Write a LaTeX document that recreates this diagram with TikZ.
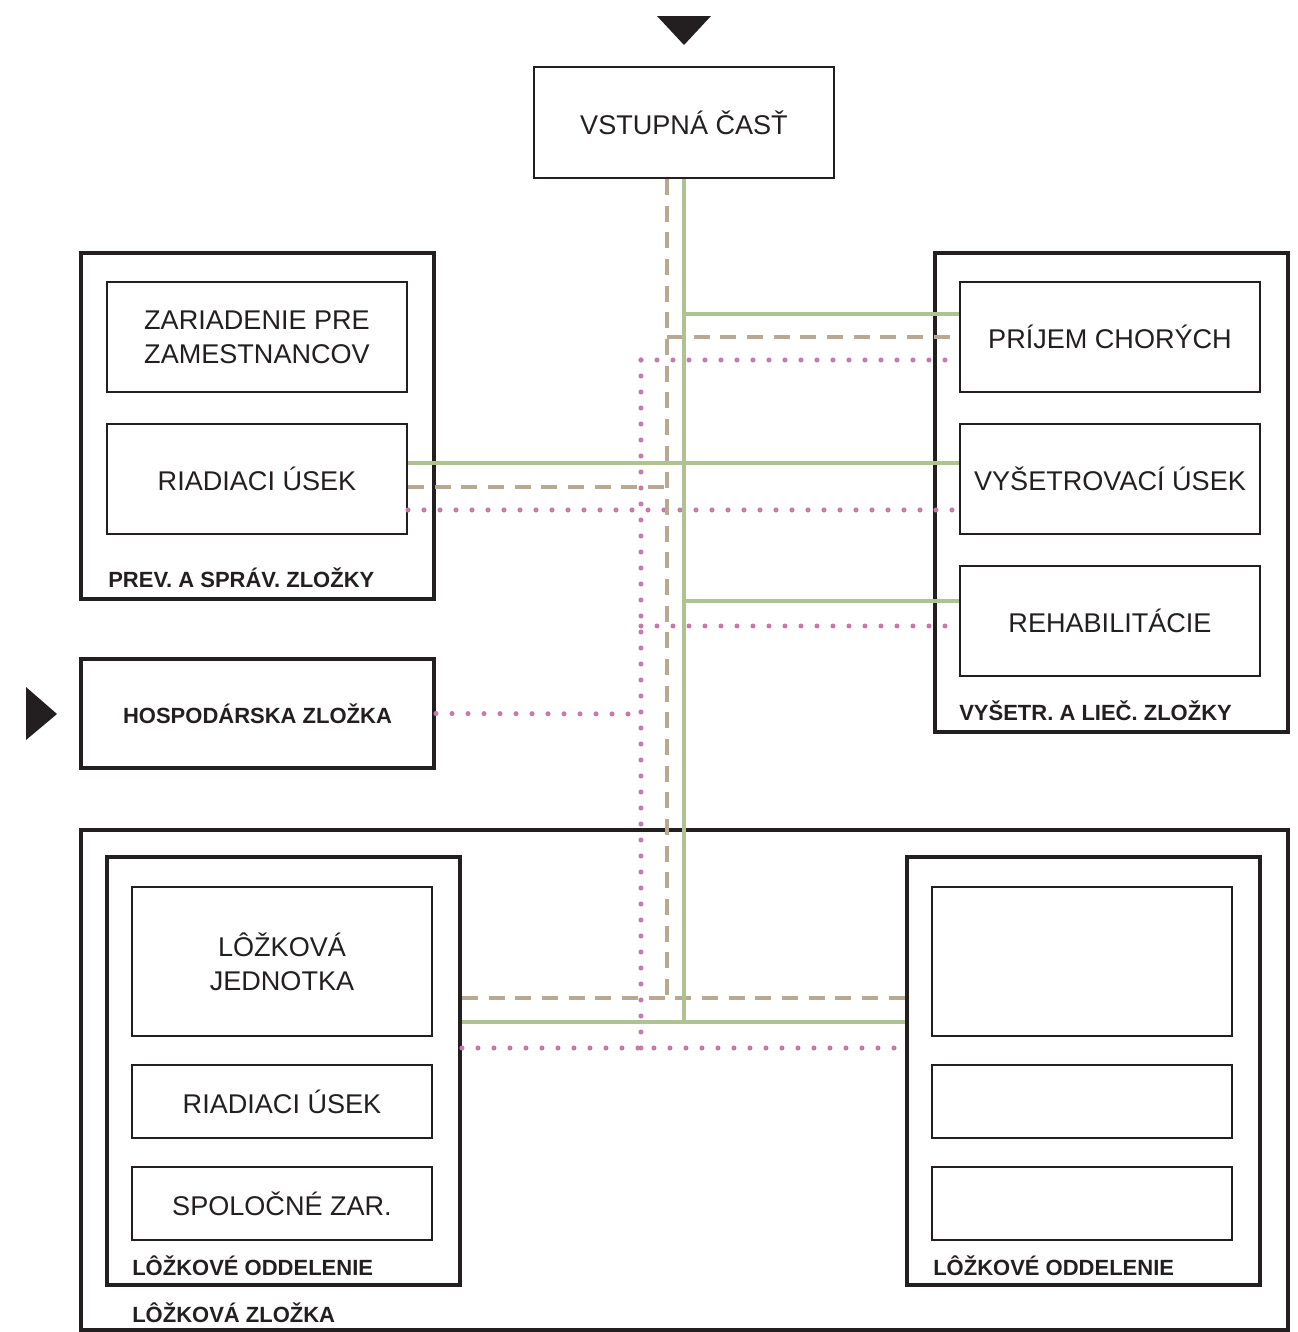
\documentclass[tikz,border=0pt]{standalone}
\usepackage{fontspec}
\setmainfont{Liberation Sans}
\definecolor{ink}{HTML}{231F20}
\definecolor{gln}{HTML}{AFC292}
\definecolor{tln}{HTML}{B9A993}
\definecolor{pln}{HTML}{C67AA6}
\begin{document}
\begin{tikzpicture}[x=0.75pt,y=-0.75pt,
  inbox/.style={draw=ink,line width=1.5pt,inner sep=0pt,minimum width=225pt,
    font=\fontsize{20.3}{25.5}\selectfont,text=ink,align=center},
  grpbox/.style={draw=ink,line width=3pt,inner sep=0pt},
  glabel/.style={anchor=base west,inner sep=0pt,text=ink,font=\fontsize{16.5}{19}\selectfont\bfseries},
  gline/.style={draw=gln,line width=3.2pt},
  tline/.style={draw=tln,line width=3.4pt,dash pattern=on 12pt off 8pt},
  pline/.style={draw=pln,line width=3.8pt,line cap=round,dash pattern=on 0pt off 12pt}]
\useasboundingbox (0,0) rectangle (1297,1332);
% triangles
\fill[ink] (657,16) -- (711,16) -- (684,45) -- cycle;
\fill[ink] (26,687) -- (57,714) -- (26,740) -- cycle;
% entry
\node[inbox,minimum height=83.25pt] (vst) at (684,122.5) {VSTUPNÁ ČASŤ};
% left group
\node[grpbox,minimum width=264.75pt,minimum height=259.5pt] (prev) at (257.5,426) {};
\node[inbox,minimum height=82.5pt] (zar) at (257,337) {ZARIADENIE PRE\\ZAMESTNANCOV};
\node[inbox,minimum height=82.5pt] (riad1) at (257,479) {RIADIACI ÚSEK};
\node[glabel] (prevl) at (108,587) {PREV. A SPRÁV. ZLOŽKY};
% right group
\node[grpbox,minimum width=264.75pt,minimum height=359.25pt] (vys) at (1111.5,492.5) {};
\node[inbox,minimum height=82.5pt] (prij) at (1110,337) {PRÍJEM CHORÝCH};
\node[inbox,minimum height=82.5pt] (vyset) at (1110,479) {VYŠETROVACÍ ÚSEK};
\node[inbox,minimum height=82.5pt] (rehab) at (1110,621) {REHABILITÁCIE};
\node[glabel] (vysl) at (959,720) {VYŠETR. A LIEČ. ZLOŽKY};
% hospodarska
\node[grpbox,minimum width=264.75pt,minimum height=81.75pt,text=ink,
  font=\fontsize{16.5}{19}\selectfont\bfseries] (hosp) at (257.5,713.5) {HOSPODÁRSKA ZLOŽKA};
% bottom
\node[grpbox,minimum width=905.25pt,minimum height=375pt] (lozz) at (684.5,1080) {};
\node[grpbox,minimum width=264.75pt,minimum height=321pt] (lodl) at (283.5,1071) {};
\node[grpbox,minimum width=264.75pt,minimum height=321pt] (lodr) at (1083.5,1071) {};
\node[inbox,minimum height=111.75pt] (loj) at (282,961.5) {LÔŽKOVÁ\\JEDNOTKA};
\node[inbox,minimum height=54.75pt] (riad2) at (282,1101.5) {RIADIACI ÚSEK};
\node[inbox,minimum height=54.75pt] (spol) at (282,1203.5) {SPOLOČNÉ ZAR.};
\node[inbox,minimum height=111.75pt] (r1) at (1082,961.5) {};
\node[inbox,minimum height=54.75pt] (r2) at (1082,1101.5) {};
\node[inbox,minimum height=54.75pt] (r3) at (1082,1203.5) {};
\node[glabel] (lodll) at (132,1275) {LÔŽKOVÉ ODDELENIE};
\node[glabel] (lodrl) at (933,1275) {LÔŽKOVÉ ODDELENIE};
\node[glabel] (lozzl) at (132,1322) {LÔŽKOVÁ ZLOŽKA};
% junction coordinates
\coordinate (g1) at (684,314);
\coordinate (g2) at (684,463);
\coordinate (g3) at (684,601);
\coordinate (g4) at (684,1022);
\coordinate (t1) at (667,337);
\coordinate (t2) at (667,487);
\coordinate (t3) at (667,998);
\coordinate (p1) at (641,360);
\coordinate (p2) at (641,510);
\coordinate (p3) at (641,626);
\coordinate (p4) at (641,714);
\coordinate (p5) at (641,1048);
% pink dotted
\draw[pline] (p1) -- (p5);
\draw[pline] (p1) -- (prij.west |- p1);
\draw[pline] (riad1.east |- p2) -- (vyset.west |- p2);
\draw[pline] (p3) -- (rehab.west |- p3);
\draw[pline] (hosp.east) -- (p4);
\draw[pline] (lodl.east |- p5) -- (lodr.west |- p5);
% tan dashed
\draw[tline] (vst.south -| t1) -- (t3);
\draw[tline] (t1) -- (prij.west |- t1);
\draw[tline] (riad1.east |- t2) -- (t2);
\draw[tline] (lodl.east |- t3) -- (lodr.west |- t3);
% green
\draw[gline] (vst.south) -- (g4);
\draw[gline] (g1) -- (prij.west |- g1);
\draw[gline] (riad1.east |- g2) -- (vyset.west |- g2);
\draw[gline] (g3) -- (rehab.west |- g3);
\draw[gline] (lodl.east |- g4) -- (lodr.west |- g4);
\end{tikzpicture}
\end{document}
